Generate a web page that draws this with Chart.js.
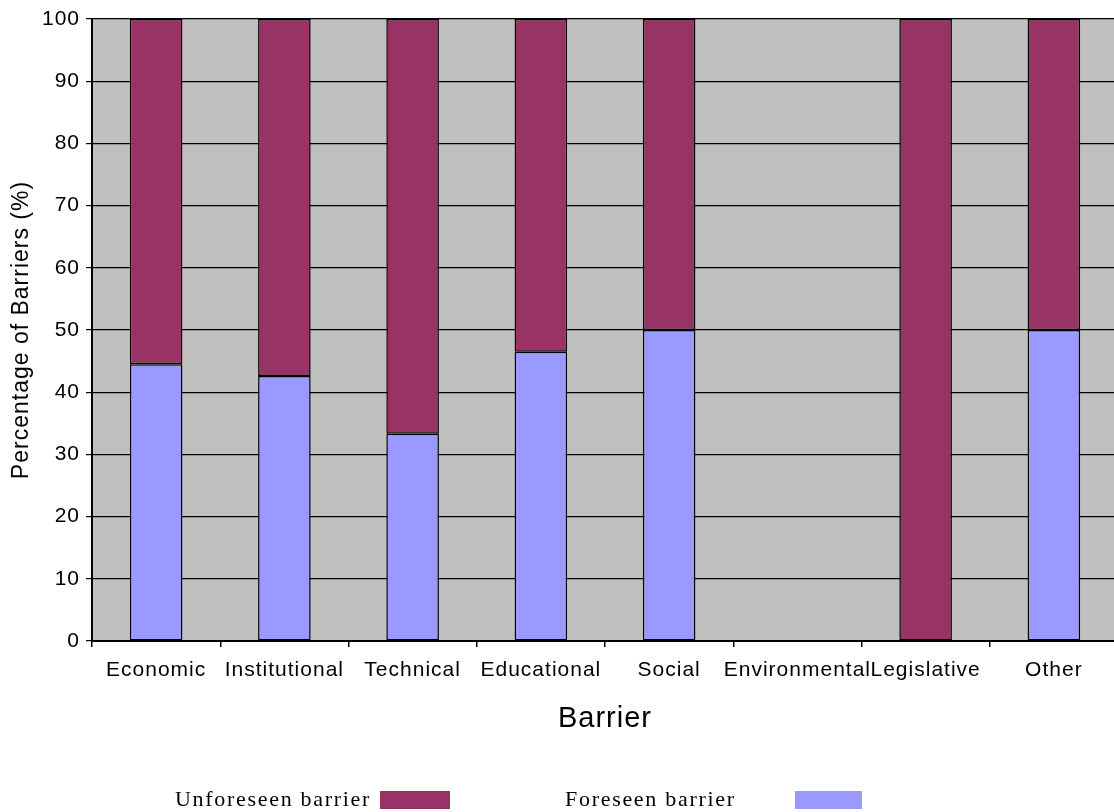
<!DOCTYPE html>
<html>
<head>
<title>Barriers</title>
<script src="https://cdn.jsdelivr.net/npm/chart.js"></script>
<style>
  html, body { margin: 0; padding: 0; background: #ffffff; overflow: hidden; }
  .wrap { position: absolute; left: 0; top: 0; width: 1118px; height: 812px; }
  .legend-text {
    position: absolute; top: 786px;
    font-family: "Liberation Serif", "Times New Roman", serif;
    font-size: 22px; letter-spacing: 1.7px; color: #000;
  }
  .legend-box { position: absolute; top: 791px; height: 18px; }
</style>
</head>
<body>
<div class="wrap">
  <canvas id="barChart" width="1118" height="812"></canvas>
</div>
<span class="legend-text" style="left:175px">Unforeseen barrier</span>
<div class="legend-box" style="left:380px;width:70px;background:#993366"></div>
<span class="legend-text" style="left:565px">Foreseen barrier</span>
<div class="legend-box" style="left:795px;width:67px;background:#9999FF"></div>

<script>
var categories = ['Economic','Institutional','Technical','Educational','Social','Environmental','Legislative','Other'];
var foreseen   = [44.5, 42.6, 33.3, 46.5, 50, null, 0, 50];
var unforeseen = [55.5, 57.4, 66.7, 53.5, 50, null, 100, 50];
var yTicks = [0,10,20,30,40,50,60,70,80,90,100];

// grey plot area and letter spacing for canvas text
var plotBg = {
    id: 'plotBg',
    beforeLayout: function(chart) { chart.ctx.letterSpacing = '1px'; },
    beforeDraw: function(chart) {
        var a = chart.chartArea, ctx = chart.ctx;
        ctx.letterSpacing = '1px';
        ctx.save();
        ctx.fillStyle = '#C0C0C0';
        ctx.fillRect(a.left, a.top, a.right - a.left, a.bottom - a.top);
        ctx.restore();
    }
};

var ctx = document.getElementById('barChart').getContext('2d');
new Chart(ctx, {
    type: 'bar',
    data: {
        labels: categories,
        datasets: [
            {
                label: 'Foreseen barrier',
                data: foreseen,
                backgroundColor: '#9999FF',
                borderColor: '#000000',
                borderWidth: 1.5,
                borderSkipped: false
            },
            {
                label: 'Unforeseen barrier',
                data: unforeseen,
                backgroundColor: '#993366',
                borderColor: '#000000',
                borderWidth: 1.5,
                borderSkipped: false
            }
        ]
    },
    options: {
        responsive: false,
        animation: false,
        layout: { padding: { top: 19, left: 0, right: 0, bottom: 0 } },
        datasets: { bar: { barPercentage: 0.41, categoryPercentage: 1 } },
        plugins: { legend: { display: false }, tooltip: { enabled: false } },
        scales: {
            x: {
                stacked: true,
                afterFit: function(s) { s.height = 171; },
                grid: { display: true, drawOnChartArea: false, drawTicks: true, tickLength: 6, color: '#000000', offset: true, lineWidth: 1.5 },
                border: { display: true, color: '#000000', width: 2 },
                ticks: {
                    color: '#000000', autoSkip: false, maxRotation: 0, padding: 11,
                    font: { family: '"Liberation Sans", Arial, sans-serif', size: 21 }
                },
                title: {
                    display: true, text: 'Barrier', color: '#000000',
                    padding: { top: 0, bottom: 76 },
                    font: { family: '"Liberation Sans", Arial, sans-serif', size: 29 }
                }
            },
            y: {
                stacked: true,
                min: 0, max: 100,
                afterFit: function(s) { s.width = 92; },
                afterBuildTicks: function(s) { s.ticks = yTicks.map(function(v) { return { value: v }; }); },
                grid: { color: '#000000', lineWidth: 1.2, tickLength: 6, drawTicks: true },
                border: { display: true, color: '#000000', width: 2 },
                ticks: {
                    color: '#000000', padding: 6,
                    font: { family: '"Liberation Sans", Arial, sans-serif', size: 21 }
                },
                title: {
                    display: true, text: 'Percentage of Barriers (%)', color: '#000000',
                    padding: { top: 8, bottom: 0 },
                    font: { family: '"Liberation Sans", Arial, sans-serif', size: 23 }
                }
            }
        }
    },
    plugins: [plotBg]
});
</script>
</body>
</html>
